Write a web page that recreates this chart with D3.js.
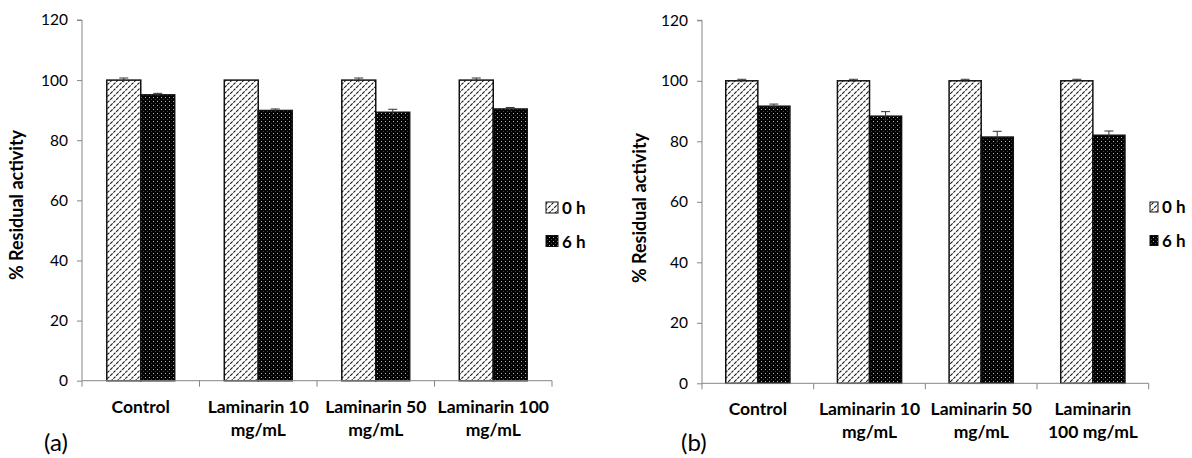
<!DOCTYPE html>
<html>
<head>
<meta charset="utf-8">
<script src="https://cdn.jsdelivr.net/npm/d3@7"></script>
<style>
  html, body { margin: 0; padding: 0; background: #fff; }
  svg { display: block; }
  text { font-family: Lato, "Open Sans", sans-serif; fill: #000; }
</style>
</head>
<body>
<svg id="chart" width="1192" height="458"></svg>
<script>
// ---------- data ----------
const series = ["0 h", "6 h"];
const yTicks = [0, 20, 40, 60, 80, 100, 120];

const labelsA = [["Control"], ["Laminarin 10", "mg/mL"], ["Laminarin 50", "mg/mL"], ["Laminarin 100", "mg/mL"]];
const values0hA = [100, 100, 100, 100];
const values6hA = [95.1, 89.9, 89.3, 90.4];
const err0hA = [0.7, 0.0, 0.7, 0.7];
const err6hA = [0.5, 0.5, 1.0, 0.5];

const labelsB = [["Control"], ["Laminarin 10", "mg/mL"], ["Laminarin 50", "mg/mL"], ["Laminarin", "100 mg/mL"]];
const values0hB = [100, 100, 100, 100];
const values6hB = [91.6, 88.3, 81.4, 82.0];
const err0hB = [0.5, 0.5, 0.5, 0.5];
const err6hB = [0.7, 1.5, 1.9, 1.4];

const yTitle = "% Residual activity";

// ---------- drawing ----------
const svg = d3.select("#chart");
const defs = svg.append("defs");

// hatch pattern for 0 h
const hatch = defs.append("pattern").attr("id", "hatch")
  .attr("patternUnits", "userSpaceOnUse").attr("width", 6).attr("height", 6);
hatch.append("rect").attr("width", 6).attr("height", 6).attr("fill", "#fff");
hatch.append("path").attr("d", "M-1,7 L7,-1 M-1,1 L1,-1 M5,7 L7,5")
  .attr("stroke", "#1a1a1a").attr("stroke-width", 1.1).attr("stroke-dasharray", "3.5,1");

// dotted pattern for 6 h
const dots = defs.append("pattern").attr("id", "dots")
  .attr("patternUnits", "userSpaceOnUse").attr("width", 4).attr("height", 4);
dots.append("rect").attr("width", 4).attr("height", 4).attr("fill", "#000");
dots.append("rect").attr("x", 1).attr("y", 1).attr("width", 1).attr("height", 1).attr("fill", "#bbb");
dots.append("rect").attr("x", 3).attr("y", 3).attr("width", 1).attr("height", 1).attr("fill", "#444");

const fills = { "0 h": "url(#hatch)", "6 h": "url(#dots)" };

function drawChart(cfg) {
  const g = svg.append("g");
  const n = cfg.labels.length;
  const x = d3.scaleBand().domain(d3.range(n)).range([cfg.x0, cfg.x1]).paddingInner(0).paddingOuter(0);
  const xs = d3.scaleBand().domain(series).range([0, x.bandwidth()]).paddingInner(0).paddingOuter(cfg.pad);
  const y = d3.scaleLinear().domain([0, 120]).range([cfg.yBottom, cfg.yTop]);

  // y axis
  const yAxis = g.append("g").attr("transform", `translate(${cfg.x0},0)`)
    .call(d3.axisLeft(y).tickValues(yTicks).tickSize(5).tickPadding(9));
  yAxis.select(".domain").attr("stroke", "#868686").attr("d", `M-5,${y(120)}H0V${y(0)}`);
  yAxis.selectAll(".tick line").attr("stroke", "#868686");
  yAxis.selectAll(".tick text").style("font-family", "Lato, sans-serif").style("font-size", "15.5px").attr("fill", "#1a1a1a");

  // bars
  const rows = [];
  for (let i = 0; i < n; i++) {
    rows.push({ i, s: "0 h", v: cfg.v0[i], e: cfg.e0[i] });
    rows.push({ i, s: "6 h", v: cfg.v6[i], e: cfg.e6[i] });
  }
  g.selectAll("rect.bar").data(rows).enter().append("rect")
    .attr("class", "bar")
    .attr("x", d => x(d.i) + xs(d.s))
    .attr("y", d => y(d.v))
    .attr("width", xs.bandwidth())
    .attr("height", d => y(0) - y(d.v))
    .attr("fill", d => fills[d.s])
    .attr("stroke", "#111").attr("stroke-width", 1.5);

  // error bars
  const eb = g.selectAll("g.err").data(rows.filter(d => d.e > 0)).enter().append("g").attr("class", "err");
  eb.append("line")
    .attr("x1", d => x(d.i) + xs(d.s) + xs.bandwidth() / 2)
    .attr("x2", d => x(d.i) + xs(d.s) + xs.bandwidth() / 2)
    .attr("y1", d => y(d.v - d.e)).attr("y2", d => y(d.v + d.e))
    .attr("stroke", "#333").attr("stroke-width", 1);
  eb.append("line")
    .attr("x1", d => x(d.i) + xs(d.s) + xs.bandwidth() / 2 - 4.5)
    .attr("x2", d => x(d.i) + xs(d.s) + xs.bandwidth() / 2 + 4.5)
    .attr("y1", d => y(d.v + d.e)).attr("y2", d => y(d.v + d.e))
    .attr("stroke", "#333").attr("stroke-width", 1);

  // x axis
  g.append("line").attr("x1", cfg.x0).attr("x2", cfg.x1)
    .attr("y1", y(0)).attr("y2", y(0)).attr("stroke", "#868686").attr("stroke-width", 1);
  const bounds = d3.range(n).map(i => x(i)).concat([cfg.x1]);
  g.selectAll("line.xt").data(bounds).enter().append("line").attr("class", "xt")
    .attr("x1", d => d).attr("x2", d => d)
    .attr("y1", y(0)).attr("y2", y(0) + 6).attr("stroke", "#868686");

  // category labels
  const lab = g.selectAll("text.cat").data(cfg.labels).enter().append("text").attr("class", "cat")
    .attr("text-anchor", "middle")
    .style("font-weight", "bold").style("font-size", "17.5px");
  lab.selectAll("tspan").data((d, i) => d.map(t => ({ t, i }))).enter().append("tspan")
    .attr("x", d => x(d.i) + x.bandwidth() / 2)
    .attr("y", (d, k) => cfg.labelY + k * 23)
    .text(d => d.t);

  // y title
  g.append("text")
    .attr("transform", `translate(${cfg.titleX},${cfg.titleY}) rotate(-90)`)
    .attr("text-anchor", "middle")
    .style("font-weight", "bold").style("font-size", "18px")
    .text(yTitle);

  // legend
  series.forEach((s, k) => {
    g.append("rect")
      .attr("x", cfg.legX).attr("y", cfg.legY + k * 33.5)
      .attr("width", cfg.legW).attr("height", cfg.legH)
      .attr("fill", fills[s]).attr("stroke", "#111").attr("stroke-width", 1);
    g.append("text")
      .attr("x", cfg.legX + cfg.legW + 4).attr("y", cfg.legY + cfg.legH + 1 + k * 33.5)
      .style("font-weight", "bold").style("font-size", "17px")
      .text(s);
  });

  // panel tag
  g.append("text").attr("x", cfg.tagX).attr("y", 451)
    .style("font-size", "24px").text(cfg.tag);
}

drawChart({
  labels: labelsA, v0: values0hA, v6: values6hA, e0: err0hA, e6: err6hA,
  x0: 82, x1: 552, yTop: 20, yBottom: 380.7, pad: 0.73,
  labelY: 412.5, titleX: 23, titleY: 205,
  legX: 546, legY: 202, legW: 12, legH: 11,
  tag: "(a)", tagX: 44
});

drawChart({
  labels: labelsB, v0: values0hB, v6: values6hB, e0: err0hB, e6: err6hB,
  x0: 702, x1: 1148.7, yTop: 20.3, yBottom: 383.3, pad: 0.74,
  labelY: 414.5, titleX: 646, titleY: 208,
  legX: 1150, legY: 202, legW: 8, legH: 10,
  tag: "(b)", tagX: 681
});
</script>
</body>
</html>
